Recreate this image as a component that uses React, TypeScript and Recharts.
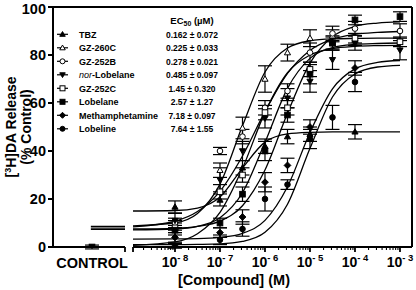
import React from 'react';
import { ComposedChart, Line, Scatter, XAxis, YAxis, ReferenceLine, ErrorBar } from 'recharts';

const FONT = '"Liberation Sans", Arial, Helvetica, sans-serif';

// axis layout (log10 of molar concentration), 45px per decade
const X_MIN = -10.711;
const X_MAX = -2.733;
const CONTROL_X = -9.844;
const CONTROL_END = -9.111;
const LOG_START = -8.933;
const MAJOR_TICKS = [-8, -7, -6, -5, -4, -3];
const Y_TICKS = [0, 20, 40, 60, 80, 100];

// legend text
const compounds = ['TBZ', 'GZ-260C', 'GZ-252B', 'nor-Lobelane', 'GZ-252C', 'Lobelane', 'Methamphetamine', 'Lobeline'];
const ec50Labels = ['0.162 ± 0.072', '0.225 ± 0.033', '0.278 ± 0.021', '0.485 ± 0.097', '1.45 ± 0.320', '2.57 ± 1.27', '7.18 ± 0.097', '7.64 ± 1.55'];
const markerShapes = ['triangle', 'triangle', 'circle', 'triangleDown', 'square', 'square', 'diamond', 'circle'];
const markerFilled = [true, false, false, true, false, true, true, true];

// measured points: log10[M] doses
const doseLogs = [-8, -7, -6.5, -6, -5.5, -5, -4.5, -4, -3];
const tbzMean = [16.7, 19.6, 33, 42, 46, 47, null, 48, null];
const tbzSem = [2.5, 2.5, 3, 3, 3, 3, null, 3, null];
const gz260cMean = [9, 32, 49.6, 70, 81, 87, 88, 86, null];
const gz260cSem = [2, 3, 4.5, 5.5, 3.5, 3.5, 2.5, 2, null];
const gz252bMean = [10, 40, 46, 58, 65, 81, 89, 91, 90];
const gz252bSem = [2, 1.5, 3, 3, 3, 4, 3, 3, 3];
const norLobelaneMean = [11, 28, 40, 53.6, 62, 69, 78, 85, 82];
const norLobelaneSem = [3, 5, 4, 4, 4, 4.5, 4, 3, 4];
const gz252cMean = [8, 23, 30, 56, 58, 74, 85, 87, 85.5];
const gz252cSem = [2, 3, 3, 3, 3, 3, 2.5, 2, 2];
const lobelaneMean = [7, 10, 22, 40, 55, 72, 85, 94.6, 96];
const lobelaneSem = [2, 2, 3, 4, 3, 4, 3, 2, 2];
const methMean = [4, 6, 12.5, 27, 34, 50, null, 74.6, null];
const methSem = [2, 2, 3, 4, 3, 3, null, 3, null];
const lobelineMean = [0.5, 3, 7.5, 20, 26, 45, 54, 68.75, null];
const lobelineSem = [1, 2, 3, 5, 2, 4, 5, 4, null];

// fitted curves
const curveLogs = [-8.933, -8, -7.5, -7, -6.5, -6, -5.5, -5, -4.5, -4, -3.5, -3];
const tbzFit = [15.0, 15.2, 16.2, 20.8, 32.9, 43.7, 47.1, 47.8, 48.0, 48.0, 48.0, 48.0];
const gz260cFit = [8.8, 10.1, 14.0, 26.2, 50.5, 72.9, 82.9, 85.9, 86.7, 86.9, 87.0, 87.0];
const gz252bFit = [8.4, 10.8, 14.8, 23.2, 37.9, 56.4, 72.3, 81.9, 86.6, 88.6, 89.4, 89.8];
const norLobelaneFit = [0.7, 2.1, 5.5, 14.4, 32.8, 56.1, 72.6, 80.0, 82.7, 83.6, 83.9, 84.0];
const gz252cFit = [7.1, 7.5, 8.6, 12.2, 22.6, 43.6, 66.1, 78.6, 83.1, 84.4, 84.8, 85.0];
const lobelaneFit = [7.5, 7.8, 8.6, 10.8, 17.2, 32.1, 55.7, 76.6, 87.6, 91.9, 93.3, 93.8];
const methFit = [3.3, 3.4, 3.5, 4.0, 5.7, 11.1, 25.1, 47.7, 65.9, 74.2, 76.9, 77.7];
const lobelineFit = [1.0, 1.0, 1.1, 1.3, 2.3, 6.1, 17.8, 41.1, 62.5, 72.1, 75.0, 75.7];

// control group
const controlMean = 0;
const controlSem = 0.8;
const controlStubStart = -9.87;
const controlStubLevels = [7.3, 7.9, 8.6];

const means = [tbzMean, gz260cMean, gz252bMean, norLobelaneMean, gz252cMean, lobelaneMean, methMean, lobelineMean];
const sems = [tbzSem, gz260cSem, gz252bSem, norLobelaneSem, gz252cSem, lobelaneSem, methSem, lobelineSem];
const fits = [tbzFit, gz260cFit, gz252bFit, norLobelaneFit, gz252cFit, lobelaneFit, methFit, lobelineFit];

const minorTicks: number[] = [];
for (let n = -9; n <= -4; n++) {
  for (let k = 2; k <= 9; k++) {
    const v = n + Math.log10(k);
    if (v > LOG_START && v < X_MAX) minorTicks.push(v);
  }
}
const allTicks = [CONTROL_X, CONTROL_END, LOG_START, ...MAJOR_TICKS, ...minorTicks].sort((a, b) => a - b);

const near = (a: number, b: number) => Math.abs(a - b) < 1e-6;

const Marker = ({ cx, cy, shape, filled, r = 2.8 }: any) => {
  const fill = filled ? '#000' : '#fff';
  const common = { fill, stroke: '#000', strokeWidth: 1 };
  if (cx == null || cy == null) return null;
  switch (shape) {
    case 'triangle':
      return <polygon points={`${cx},${cy - r * 1.1} ${cx - r * 1.1},${cy + r * 0.8} ${cx + r * 1.1},${cy + r * 0.8}`} {...common} />;
    case 'triangleDown':
      return <polygon points={`${cx},${cy + r * 1.1} ${cx - r * 1.1},${cy - r * 0.8} ${cx + r * 1.1},${cy - r * 0.8}`} {...common} />;
    case 'square':
      return <rect x={cx - r} y={cy - r} width={r * 2} height={r * 2} {...common} />;
    case 'diamond':
      return <polygon points={`${cx},${cy - r * 1.2} ${cx + r * 1.2},${cy} ${cx},${cy + r * 1.2} ${cx - r * 1.2},${cy}`} {...common} />;
    default:
      return <circle cx={cx} cy={cy} r={r} {...common} />;
  }
};

const XTick = ({ x, y, payload }: any) => {
  const v = payload.value;
  if (near(v, CONTROL_X)) {
    return (
      <text x={x} y={y + 21} textAnchor="middle" fontFamily={FONT} fontWeight="bold" fontSize={14.5} fill="#000">
        CONTROL
      </text>
    );
  }
  const major = MAJOR_TICKS.some((m) => near(m, v));
  const cap = near(v, CONTROL_END) || near(v, LOG_START);
  const len = major || cap ? 5 : 3;
  return (
    <g>
      <line x1={x} x2={x} y1={y} y2={y + len} stroke="#000" strokeWidth={major || cap ? 1.8 : 1.1} />
      {major && (
        <text x={x} y={y + 20} textAnchor="middle" fontFamily={FONT} fontWeight="bold" fontSize={14} fill="#000">
          10
          <tspan dy={-6} fontSize={9.5}>{`- ${Math.abs(v)}`}</tspan>
        </text>
      )}
    </g>
  );
};

export default function App() {
  const curveSeries = fits.map((vals) => curveLogs.map((x, i) => ({ x, y: vals[i] })));
  const pointSeries = means.map((m, s) =>
    doseLogs
      .map((x, i) => ({ x, y: m[i], err: sems[s][i] }))
      .filter((p) => p.y != null)
  );
  const controlData = [{ x: CONTROL_X, y: controlMean, err: controlSem }];

  return (
    <div style={{ position: 'absolute', left: 0, top: 0, width: 416, height: 290, background: '#fff' }}>
      <ComposedChart width={416} height={290} margin={{ top: 7, right: 4, bottom: 0, left: 8 }}>
        <XAxis
          dataKey="x"
          type="number"
          domain={[X_MIN, X_MAX]}
          ticks={allTicks}
          interval={0}
          tick={<XTick />}
          tickLine={false}
          axisLine={false}
          tickSize={0}
          tickMargin={0}
          height={43}
          allowDataOverflow
        />
        <YAxis
          dataKey="y"
          type="number"
          domain={[0, 100]}
          ticks={Y_TICKS}
          width={45}
          tickSize={5}
          tickMargin={2}
          axisLine={{ stroke: '#000', strokeWidth: 2 }}
          tickLine={{ stroke: '#000', strokeWidth: 2 }}
          tick={{ fill: '#000', fontFamily: FONT, fontWeight: 'bold', fontSize: 14.5 }}
          allowDataOverflow
        />
        <ReferenceLine y={100} stroke="#000" strokeWidth={2} />
        <ReferenceLine x={X_MAX} stroke="#000" strokeWidth={2} />
        <ReferenceLine segment={[{ x: X_MIN, y: 0 }, { x: CONTROL_END, y: 0 }]} stroke="#000" strokeWidth={2} />
        <ReferenceLine segment={[{ x: LOG_START, y: 0 }, { x: X_MAX, y: 0 }]} stroke="#000" strokeWidth={2} />

        {controlStubLevels.map((lvl, i) => (
          <Line
            key={`stub${i}`}
            data={[{ x: controlStubStart, y: lvl }, { x: CONTROL_END, y: lvl }]}
            dataKey="y"
            stroke="#000"
            strokeWidth={1.2}
            dot={false}
            isAnimationActive={false}
          />
        ))}

        {curveSeries.map((d, i) => (
          <Line
            key={`fit${i}`}
            data={d}
            dataKey="y"
            type="monotone"
            stroke="#000"
            strokeWidth={1.3}
            dot={false}
            isAnimationActive={false}
          />
        ))}

        {pointSeries.map((d, i) => (
          <Scatter
            key={`pts${i}`}
            data={d}
            dataKey="y"
            isAnimationActive={false}
            shape={(p: any) => <Marker cx={p.cx} cy={p.cy} shape={markerShapes[i]} filled={markerFilled[i]} />}
          >
            <ErrorBar dataKey="err" direction="y" width={7} stroke="#000" strokeWidth={1.2} />
          </Scatter>
        ))}

        <Scatter
          data={controlData}
          dataKey="y"
          isAnimationActive={false}
          shape={(p: any) => <Marker cx={p.cx} cy={p.cy} shape="square" filled />}
        >
          <ErrorBar dataKey="err" direction="y" width={7} stroke="#000" strokeWidth={1.2} />
        </Scatter>
      </ComposedChart>

      <svg width={416} height={290} style={{ position: 'absolute', left: 0, top: 0, pointerEvents: 'none' }}>
        <g fontFamily={FONT} fontWeight="bold" fill="#000">
          <text transform="translate(15.5,127) rotate(-90)" textAnchor="middle" fontSize={14}>
            [<tspan dy={-5} fontSize={9}>3</tspan>
            <tspan dy={5}>H]DA Release</tspan>
          </text>
          <text transform="translate(31,127) rotate(-90)" textAnchor="middle" fontSize={14}>
            (% Control)
          </text>
          <text x={234} y={285} textAnchor="middle" fontSize={14.5}>
            [Compound] (M)
          </text>
          <text x={192} y={23.5} textAnchor="middle" fontSize={9.5}>
            EC<tspan dy={2.5} fontSize={7}>50</tspan>
            <tspan dy={-2.5}> (µM)</tspan>
          </text>
          {compounds.map((name, i) => {
            const y = 34.3 + i * 13.5;
            return (
              <g key={name}>
                <line x1={57} x2={68} y1={y} y2={y} stroke="#000" strokeWidth={1.2} />
                <Marker cx={62.5} cy={y} shape={markerShapes[i]} filled={markerFilled[i]} r={2.5} />
                <text x={79} y={y + 3.3} fontSize={9}>
                  {name.startsWith('nor-') ? (
                    <>
                      <tspan fontStyle="italic" fontWeight="normal">nor</tspan>
                      {name.slice(3)}
                    </>
                  ) : (
                    name
                  )}
                </text>
                <text x={192} y={y + 3.3} textAnchor="middle" fontSize={8.5}>
                  {ec50Labels[i]}
                </text>
              </g>
            );
          })}
        </g>
      </svg>
    </div>
  );
}
